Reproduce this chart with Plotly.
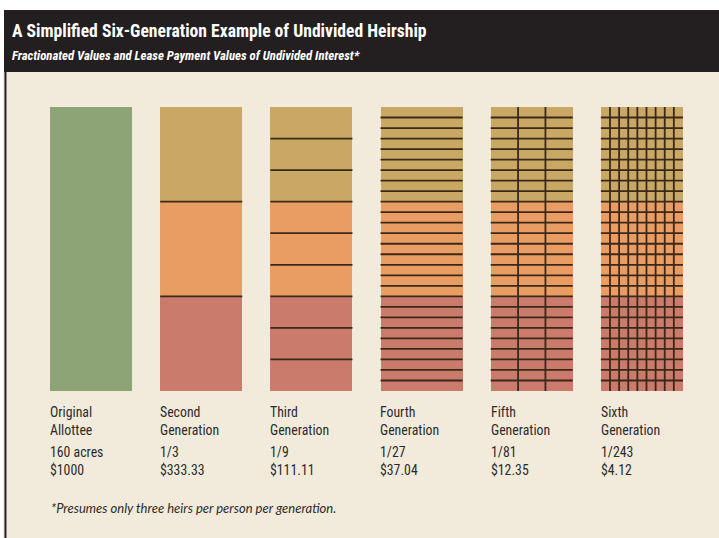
import plotly.graph_objects as go

# ---- data ----
gen_line1 = ["Original", "Second", "Third", "Fourth", "Fifth", "Sixth"]
gen_line2 = ["Allottee", "Generation", "Generation", "Generation", "Generation", "Generation"]
share_labels = ["160 acres", "1/3", "1/9", "1/27", "1/81", "1/243"]
value_labels = ["$1000", "$333.33", "$111.11", "$37.04", "$12.35", "$4.12"]
denominators = [1, 3, 9, 27, 81, 243]
heirs_per_gen = 3
segment_names = ["first heir line", "second heir line", "third heir line"]

title = "A Simplified Six-Generation Example of Undivided Heirship"
subtitle = "Fractionated Values and Lease Payment Values of Undivided Interest*"
footnote = "*Presumes only three heirs per person per generation."

# ---- styles ----
GREEN = "#8DA477"
SEG_COLORS = ["#C9A866", "#EA9D62", "#CB7B6B"]  # top, middle, bottom
LINE = "#3A2818"
BEIGE = "#F2EBDC"
HEADER = "#231F20"
TXT = "#2B2B2B"
BAR_W = 0.745
FONT_HEAD = "Roboto Condensed, Saira Semi Condensed, Asap Condensed, Roboto"
FONT_BODY = "Roboto Condensed, Asap Condensed, Lato"
FONT_NOTE = "Lato, Open Sans, sans-serif"

n = len(denominators)
xs = list(range(n))

fig = go.Figure()

# Original allottee: one solid bar
fig.add_trace(go.Bar(x=[0], y=[1], base=[0], width=BAR_W, marker=dict(color=GREEN, line=dict(width=0)),
                     hoverinfo="skip", showlegend=False))

# Stacked thirds for later generations (top segment first)
for k in range(heirs_per_gen):
    lo = (heirs_per_gen - 1 - k) / heirs_per_gen
    gx = [i for i in xs if denominators[i] > 1]
    fig.add_trace(go.Bar(x=gx, y=[1 / heirs_per_gen] * len(gx), base=[lo] * len(gx), width=BAR_W,
                         marker=dict(color=SEG_COLORS[k], line=dict(width=0)),
                         name=segment_names[k], hoverinfo="skip", showlegend=False))

# Division lines for each generation
max_rows = 27
lx, ly = [], []
for i, d in enumerate(denominators):
    if d == 1:
        continue
    rows = min(d, max_rows)
    cols = d // rows
    x0, x1 = i - BAR_W / 2, i + BAR_W / 2
    for r in range(1, rows):
        yv = r / rows
        lx += [x0, x1, None]
        ly += [yv, yv, None]
    for c in range(1, cols):
        xv = x0 + BAR_W * c / cols
        lx += [xv, xv, None]
        ly += [0, 1, None]
fig.add_trace(go.Scatter(x=lx, y=ly, mode="lines", line=dict(color=LINE, width=1.8),
                         hoverinfo="skip", showlegend=False))

# ---- category labels (two-line blocks) ----
name_blocks = [a + "<br>" + b for a, b in zip(gen_line1, gen_line2)]
value_blocks = [a + "<br>" + b for a, b in zip(share_labels, value_labels)]
for texts, yp in [(name_blocks, -0.104), (value_blocks, -0.245)]:
    for i, t in enumerate(texts):
        fig.add_annotation(x=i - BAR_W / 2 - 0.02, xref="x", y=yp, yref="paper", text=t, showarrow=False,
                           xanchor="left", yanchor="middle", align="left",
                           font=dict(family=FONT_BODY, size=13.8, color=TXT))

# ---- header, background, footnote ----
shapes = [
    dict(type="rect", xref="paper", yref="paper", x0=-0.05, x1=1.04, y0=-0.55, y1=1.123,
         fillcolor=BEIGE, line=dict(width=0), layer="below"),
    dict(type="rect", xref="paper", yref="paper", x0=-0.0484, x1=1.04, y0=1.123, y1=1.3415,
         fillcolor=HEADER, line=dict(width=0), layer="below"),
    dict(type="line", xref="paper", yref="paper", x0=-0.0462, x1=-0.0462, y0=-0.55, y1=1.2,
         line=dict(color=HEADER, width=2), layer="below"),
]
fig.update_layout(shapes=shapes)

fig.add_annotation(x=-0.039, xref="paper", y=1.266, yref="paper", text="<b>" + title + "</b>",
                   showarrow=False, xanchor="left", yanchor="middle",
                   font=dict(family=FONT_HEAD, size=17.6, color="white"))
fig.add_annotation(x=-0.039, xref="paper", y=1.181, yref="paper", text="<b><i>" + subtitle + "</i></b>",
                   showarrow=False, xanchor="left", yanchor="middle",
                   font=dict(family=FONT_HEAD, size=12.8, color="white"))
fig.add_annotation(x=-0.385, xref="x", y=-0.412, yref="paper", text="<i>" + footnote + "</i>",
                   showarrow=False, xanchor="left", yanchor="middle",
                   font=dict(family=FONT_NOTE, size=13, color=TXT))

fig.update_layout(
    width=719, height=538,
    margin=dict(l=36, r=22, t=107, b=147),
    paper_bgcolor="white", plot_bgcolor="rgba(0,0,0,0)",
    barmode="overlay", bargap=0,
    xaxis=dict(range=[-0.5, 5.5], visible=False, fixedrange=True),
    yaxis=dict(range=[0, 1], visible=False, fixedrange=True),
    showlegend=False,
)

fig.write_html("out.html", config={"displayModeBar": False},
               post_script="document.body.style.margin='0';")
